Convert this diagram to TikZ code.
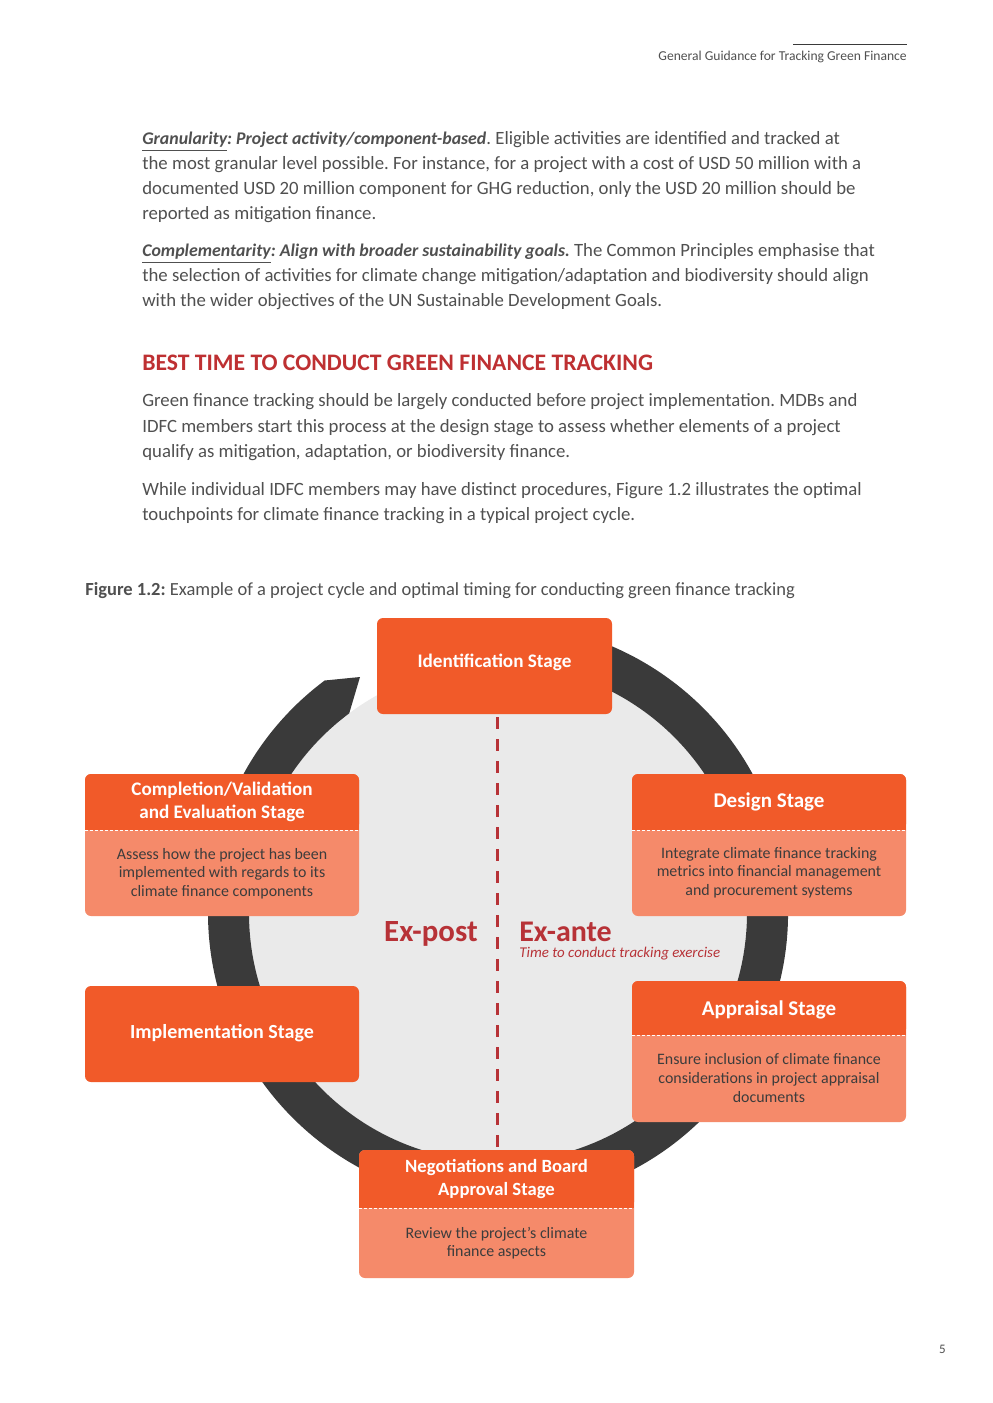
\documentclass[tikz,border=0pt]{standalone}
\usepackage{fontspec}
\setmainfont{Carlito}
\usetikzlibrary{calc}
\definecolor{org}{RGB}{241,90,41}
\definecolor{sal}{RGB}{245,138,106}
\definecolor{ringc}{RGB}{58,58,58}
\definecolor{diskc}{RGB}{234,234,234}
\definecolor{redt}{RGB}{183,50,55}
\definecolor{redh}{RGB}{190,48,50}
\definecolor{bodyt}{RGB}{80,80,80}
\definecolor{boxt}{RGB}{60,60,60}
\frenchspacing
\newcommand\bodyfont{\fontsize{11.25}{15}\selectfont}
\newcommand\bisz{\fontsize{10.7}{15}\selectfont\bfseries\itshape}
\newcommand\hdrsz[1]{\fontsize{#1}{13.8}\selectfont\bfseries}
\newcommand\smfont{\fontsize{9.55}{11.2}\selectfont}
\begin{document}
\begin{tikzpicture}[x=0.6pt,y=-0.6pt,
  txt/.style={anchor=base west, inner sep=0, font=\bodyfont, text=bodyt},
  hdr/.style={inner sep=0, align=center, text=white},
  bdy/.style={inner sep=0, align=center, font=\smfont, text=boxt},
  orgfill/.style={fill=org, rounded corners=3.6pt},
  salfill/.style={fill=sal, rounded corners=3.6pt},
  sep/.style={white, line width=0.6pt, dash pattern=on 1.8pt off 1.2pt}]
\useasboundingbox (0,0) rectangle (992,1403);
\fill[white] (0,0) rectangle (992,1403);
% running header
\draw[ringc, line width=0.6pt] (793,45) -- (907,45);
\node[anchor=base east, inner sep=0, font=\fontsize{8.15}{9}\selectfont, text=bodyt] (runhead) at (907,61) {General Guidance for Tracking Green Finance};
\node[anchor=base east, inner sep=0, font=\fontsize{7.8}{9}\selectfont, text=bodyt] (pagenum) at (946,1353) {5};
% paragraphs
\node[txt] (p1a) at (142,145) {{\bisz\underline{Granularity}: Project activity/component-based}. Eligible activities are identified and tracked at};
\node[txt] (p1b) at (142,170) {the most granular level possible. For instance, for a project with a cost of USD 50 million with a};
\node[txt] (p1c) at (142,195) {documented USD 20 million component for GHG reduction, only the USD 20 million should be};
\node[txt] (p1d) at (142,220) {reported as mitigation finance.};
\node[txt] (p2a) at (142,257) {{\bisz\underline{Complementarity}: Align with broader sustainability goals.} The Common Principles emphasise that};
\node[txt] (p2b) at (142,282) {the selection of activities for climate change mitigation/adaptation and biodiversity should align};
\node[txt] (p2c) at (142,307) {with the wider objectives of the UN Sustainable Development Goals.};
\node[txt, font=\fontsize{14.2}{16}\selectfont\bfseries, text=redh] (head) at (142,370) {BEST TIME TO CONDUCT GREEN FINANCE TRACKING};
\node[txt] (p3a) at (142,407) {Green finance tracking should be largely conducted before project implementation. MDBs and};
\node[txt] (p3b) at (142,432) {IDFC members start this process at the design stage to assess whether elements of a project};
\node[txt] (p3c) at (142,457) {qualify as mitigation, adaptation, or biodiversity finance.};
\node[txt] (p4a) at (142,495) {While individual IDFC members may have distinct procedures, Figure 1.2 illustrates the optimal};
\node[txt] (p4b) at (142,520) {touchpoints for climate finance tracking in a typical project cycle.};
\node[txt, font=\fontsize{11.1}{15}\selectfont] (cap) at (85,595) {\textbf{Figure 1.2:} Example of a project cycle and optimal timing for conducting green finance tracking};
% cycle ring
\coordinate (C) at (498,913);
\fill[diskc] (C) circle[radius=249];
\coordinate (tip) at (360,677);
\fill[ringc] ($(C)+(-100:290)$) arc[start angle=-100, end angle=233.3, radius=290] -- (tip) -- ($(C)+(233.3:249)$) arc[start angle=233.3, end angle=-100, radius=249] -- cycle;
% dashed divider
\coordinate (dtop) at (497,717);
\coordinate (dbot) at (497,1150);
\draw[redt, line width=1.8pt, dash pattern=on 7.2pt off 6pt] (dtop) -- (dbot);
% Ex-post / Ex-ante
\node[anchor=base east, inner sep=0, font=\fontsize{18.5}{20}\selectfont\bfseries, text=redt] (expost) at (478,941) {Ex-post};
\node[anchor=base west, inner sep=0, font=\fontsize{18}{20}\selectfont\bfseries, text=redt] (exante) at (519,941) {Ex-ante};
\node[anchor=base west, inner sep=0, font=\fontsize{8.95}{10}\selectfont\itshape, text=redt] (exsub) at (519,957) {Time to conduct tracking exercise};
% Identification
\fill[orgfill] (377,618) rectangle (612,714);
\node[hdr, font=\hdrsz{11.5}] (ident) at (494.5,662) {Identification Stage};
% Implementation
\fill[orgfill] (85,986) rectangle (359,1082);
\node[hdr, font=\hdrsz{12}] (impl) at (222,1033) {Implementation Stage};
% Completion
\fill[salfill] (85,774) rectangle (359,916);
\fill[orgfill] (85,774) rectangle (359,830);
\fill[org] (85,818) rectangle (359,830);
\draw[sep] (85,830) -- (359,830);
\node[hdr, font=\hdrsz{11.5}] (compl) at (222,802) {Completion/Validation\\and Evaluation Stage};
\node[bdy] (complb) at (222,873.5) {Assess how the project has been\\implemented with regards to its\\climate finance components};
% Design
\fill[salfill] (632,774) rectangle (906,916);
\fill[orgfill] (632,774) rectangle (906,830);
\fill[org] (632,818) rectangle (906,830);
\draw[sep] (632,830) -- (906,830);
\node[hdr, font=\hdrsz{12.6}] (design) at (769,802) {Design Stage};
\node[bdy] (designb) at (769,872.5) {Integrate climate finance tracking\\metrics into financial management\\and procurement systems};
% Appraisal
\fill[salfill] (632,981) rectangle (906,1122);
\fill[orgfill] (632,981) rectangle (906,1035);
\fill[org] (632,1023) rectangle (906,1035);
\draw[sep] (632,1035) -- (906,1035);
\node[hdr, font=\hdrsz{12.6}] (apprais) at (769,1010) {Appraisal Stage};
\node[bdy] (appraisb) at (769,1078) {Ensure inclusion of climate finance\\considerations in project appraisal\\documents};
% Negotiations
\fill[salfill] (359,1150) rectangle (634,1278);
\fill[orgfill] (359,1150) rectangle (634,1208);
\fill[org] (359,1196) rectangle (634,1208);
\draw[sep] (359,1208) -- (634,1208);
\node[hdr, font=\hdrsz{11.2}] (negot) at (496.5,1179) {Negotiations and Board\\Approval Stage};
\node[bdy] (negotb) at (496.5,1243) {Review the project’s climate\\finance aspects};
\end{tikzpicture}
\end{document}
